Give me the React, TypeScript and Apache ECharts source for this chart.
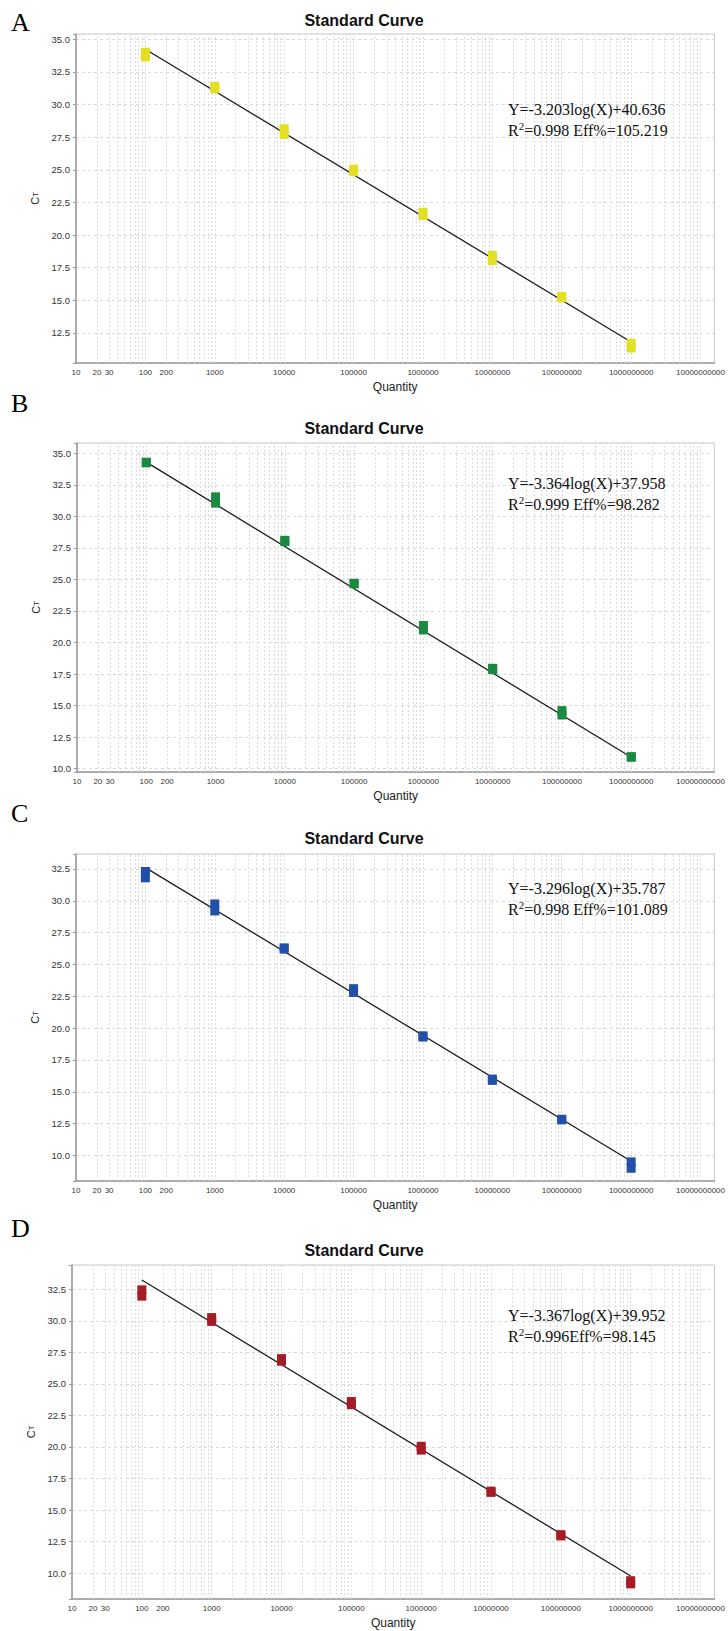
import React, { useEffect, useRef } from "react";
import * as echarts from "echarts";

// ---------- data ----------
const quantities = [100, 1000, 10000, 100000, 1000000, 10000000, 100000000, 1000000000];

// replicate Ct values per quantity
const ctA = [[33.65, 34.0], [31.2, 31.4], [27.7, 28.15], [24.85, 25.05], [21.5, 21.75], [18.05, 18.45], [15.2, 15.3], [11.35, 11.7]];
const ctB = [[34.25, 34.3], [31.05, 31.55], [28.0, 28.1], [24.65, 24.7], [21.0, 21.35], [17.85, 17.95], [14.25, 14.6], [10.9, 10.95]];
const ctC = [[31.8, 32.3], [29.2, 29.75], [26.2, 26.3], [22.8, 23.1], [19.3, 19.4], [15.9, 16.0], [12.8, 12.85], [9.0, 9.5]];
const ctD = [[31.95, 32.45], [29.95, 30.25], [26.8, 27.0], [23.35, 23.6], [19.75, 20.05], [16.4, 16.5], [12.95, 13.05], [9.15, 9.4]];

// fitted line end points (Ct at first and last quantity)
const fitQuantities = [100, 1000000000];
const fitA = [34.23, 11.81];
const fitB = [34.3, 10.9];
const fitC = [32.6, 9.55];
const fitD = [33.23, 9.77];

const equations = ["Y=-3.203log(X)+40.636", "Y=-3.364log(X)+37.958", "Y=-3.296log(X)+35.787", "Y=-3.367log(X)+39.952"];
const r2Values = ["0.998", "0.999", "0.998", "0.996"];
const effSep = [" ", " ", " ", ""];
const effValues = ["105.219", "98.282", "101.089", "98.145"];
const panelLetters = ["A", "B", "C", "D"];
const panelColors = ["#e3df22", "#198a3f", "#2250a8", "#a51c24"];

const xTickQuantities = [10, 20, 30, 100, 200, 1000, 10000, 100000, 1000000, 10000000, 100000000, 1000000000, 10000000000];

// ---------- layout ----------
const layouts = [
  { left: 76, top: 34, width: 641, height: 329, yMin: 10.2, yMax: 35.4, titleTop: 7, letterY: 24, eqY: 110 },
  { left: 77, top: 443, width: 640, height: 329, yMin: 9.73, yMax: 35.82, titleTop: 415, letterY: 405, eqY: 484 },
  { left: 76, top: 854, width: 641, height: 327, yMin: 8.0, yMax: 33.67, titleTop: 825, letterY: 815, eqY: 889 },
  { left: 72, top: 1265, width: 650, height: 334, yMin: 7.95, yMax: 34.42, titleTop: 1237, letterY: 1230, eqY: 1316 },
];

const SANS = '"Liberation Sans", Arial, sans-serif';
const SERIF = '"Liberation Serif", "Times New Roman", serif';

function gridXs(): number[] {
  const xs: number[] = [];
  for (let e = 1; e <= 10; e++) {
    for (let m = 1; m <= 9; m++) {
      const v = e + Math.log10(m);
      if (v > 1 && v < 10.2) xs.push(v);
    }
  }
  return xs;
}

function buildOption() {
  const cts = [ctA, ctB, ctC, ctD];
  const fits = [fitA, fitB, fitC, fitD];
  const grid: any[] = [];
  const xAxis: any[] = [];
  const yAxis: any[] = [];
  const series: any[] = [];
  const title: any[] = [];
  const graphic: any[] = [];
  const vlines = gridXs();

  layouts.forEach((L, i) => {
    grid.push({
      left: L.left, top: L.top, width: L.width, height: L.height,
      show: true, borderColor: "#c9c9c9", borderWidth: 1, containLabel: false,
    });
    xAxis.push({
      type: "value", gridIndex: i, min: 1, max: 10.2, interval: 1,
      axisLine: { show: true, lineStyle: { color: "#9a9a9a", width: 1.5 } },
      axisTick: { show: false },
      splitLine: { show: false },
      axisLabel: {
        customValues: xTickQuantities.map((q) => Math.log10(q)),
        fontSize: 8, color: "#333", margin: 5, fontFamily: SANS,
        formatter: (v: number) => {
          const q = Math.round(Math.pow(10, v));
          return xTickQuantities.indexOf(q) >= 0 ? String(q) : "";
        },
      },
      name: "Quantity", nameLocation: "middle", nameGap: 18,
      nameTextStyle: { fontSize: 12, color: "#222", fontFamily: SANS },
    });
    yAxis.push({
      type: "value", gridIndex: i, min: L.yMin, max: L.yMax, minInterval: 2.5, maxInterval: 2.5,
      axisLine: { show: true, lineStyle: { color: "#9a9a9a", width: 1.5 } },
      axisTick: { show: true, length: 3, lineStyle: { color: "#9a9a9a" } },
      axisLabel: {
        fontSize: 9.5, color: "#333", margin: 6, fontFamily: SANS,
        formatter: (v: number) => (Math.abs(v / 2.5 - Math.round(v / 2.5)) < 1e-6 ? v.toFixed(1) : ""),
      },
      splitLine: { show: true, lineStyle: { color: "#dadada", type: [3, 3], width: 1 } },
      name: "{c|C}{t|T}", nameLocation: "middle", nameGap: 23, nameRotate: 90,
      nameTextStyle: {
        rich: {
          c: { fontSize: 11, color: "#222", fontFamily: SANS },
          t: { fontSize: 7.5, color: "#222", fontFamily: SANS },
        },
      },
    });
    series.push({
      type: "line", xAxisIndex: i, yAxisIndex: i, data: [], z: 1, silent: true,
      markLine: {
        z: 1, silent: true, symbol: ["none", "none"], label: { show: false },
        lineStyle: { color: "#dcdcdc", type: [2, 2], width: 1 },
        emphasis: { disabled: true },
        data: vlines.map((v) => ({ xAxis: v })),
      },
    });
    series.push({
      type: "line", xAxisIndex: i, yAxisIndex: i, z: 3, silent: true,
      symbol: "none",
      lineStyle: { color: "#1c1c1c", width: 1.3 },
      data: fitQuantities.map((q, k) => [Math.log10(q), fits[i][k]]),
    });
    const pts: number[][] = [];
    quantities.forEach((q, k) => cts[i][k].forEach((ct) => pts.push([Math.log10(q), ct])));
    series.push({
      type: "scatter", xAxisIndex: i, yAxisIndex: i, z: 4,
      symbol: "rect", symbolSize: [9, 9],
      itemStyle: { color: panelColors[i], opacity: 1 },
      data: pts,
    });
    title.push({
      text: "Standard Curve", left: "center", top: L.titleTop,
      textStyle: { fontSize: 16, fontWeight: "bold", color: "#111", fontFamily: SANS },
    });
    graphic.push({
      type: "text", left: 11, top: L.letterY - 15, z: 10,
      style: { text: panelLetters[i], fontSize: 26, fontFamily: SERIF, fill: "#000" },
    });
    graphic.push({
      type: "text", left: 508, top: L.eqY - 9, z: 10,
      style: { text: equations[i], fontSize: 16, fontFamily: SERIF, fill: "#111" },
    });
    graphic.push({
      type: "text", left: 508, top: L.eqY + 10, z: 10,
      style: {
        text: "R{s|2}=" + r2Values[i] + effSep[i] + "Eff%=" + effValues[i],
        fontSize: 16, fontFamily: SERIF, fill: "#111",
        rich: { s: { fontSize: 11, fontFamily: SERIF, fill: "#111", padding: [0, 0, 9, 0] } },
      },
    });
  });

  return { animation: false, backgroundColor: "#fff", grid, xAxis, yAxis, series, title, graphic };
}

export default function App() {
  const ref = useRef<HTMLDivElement>(null);
  useEffect(() => {
    document.body.style.margin = "0";
    const chart = echarts.init(ref.current as HTMLDivElement, null, { renderer: "svg" });
    chart.setOption(buildOption() as any);
    return () => chart.dispose();
  }, []);
  return <div ref={ref} style={{ width: 728, height: 1631 }} />;
}
